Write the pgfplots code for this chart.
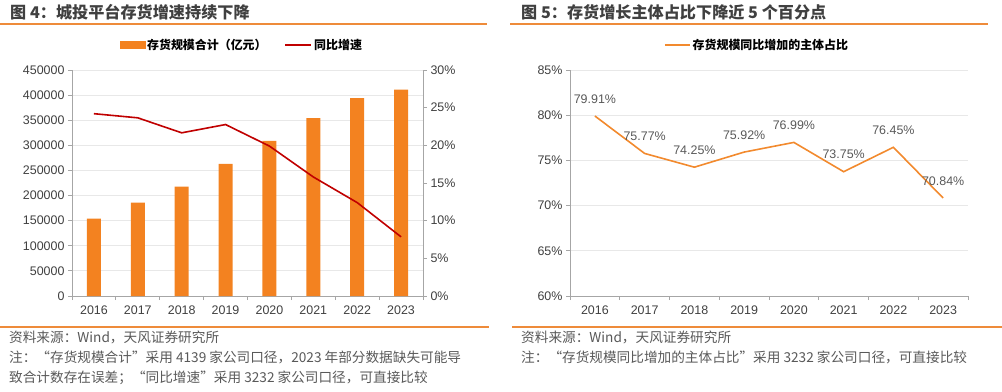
\documentclass[border=0pt]{standalone}
\usepackage{pgfplots}
\pgfplotsset{compat=1.18}
\usepackage{fontspec}
\setmainfont{Liberation Sans}
\newfontfamily\cjk{Noto Sans CJK SC}
\definecolor{barorange}{HTML}{F38220}
\definecolor{darkred}{HTML}{C00000}
\definecolor{lineorange}{HTML}{F28A2E}
\definecolor{ruleorange}{HTML}{EE8B3A}
\definecolor{ticktext}{HTML}{404040}
\definecolor{axisgray}{HTML}{A6A6A6}
\definecolor{gridgray}{HTML}{E8E8E8}
\definecolor{titlegray}{HTML}{404040}
\definecolor{notegray}{HTML}{595959}
\pgfplotsset{
  common/.style={
    scale only axis, height=226bp,
    xmin=-0.5, xmax=7.5,
    xtick={-0.5,0.5,...,7.5}, xticklabels={},
    extra x ticks={0,1,2,3,4,5,6,7},
    extra x tick labels={2016,2017,2018,2019,2020,2021,2022,2023},
    extra x tick style={major tick length=0pt, tick label style={yshift=-6bp}},
    tick align=outside,
    major tick length=4bp,
    axis line style={axisgray, line width=0.8bp},
    tick style={axisgray, line width=0.8bp},
    ymajorgrids, grid style={gridgray, line width=0.8bp},
    tick label style={font=\fontsize{12.5}{14}\selectfont, text=ticktext},
    /pgf/number format/assume math mode=true,
    /pgf/number format/1000 sep={},
    axis x line*=bottom, axis y line*=left,
  }
}
\begin{document}
\begin{tikzpicture}[x=1bp,y=1bp]
\useasboundingbox (0,0) rectangle (1002,391);
% ---- titles and rules
\node[anchor=west, inner sep=0, font=\cjk\bfseries\fontsize{16.2}{19}\selectfont, text=titlegray] at (10,379) {图 4：城投平台存货增速持续下降};
\node[anchor=west, inner sep=0, font=\cjk\bfseries\fontsize{16.2}{19}\selectfont, text=titlegray] at (521,379) {图 5：存货增长主体占比下降近 5 个百分点};
\draw[ruleorange, line width=1.5bp] (0,367) -- (487,367);
\draw[ruleorange, line width=1.5bp] (510,367) -- (988,367);
\draw[ruleorange, line width=1.5bp] (0,64) -- (489,64);
\draw[ruleorange, line width=1.5bp] (512,64) -- (1002,64);
% ---- footnotes
\begin{scope}[every node/.style={anchor=west, inner sep=0, font=\cjk\fontsize{13.7}{16}\selectfont, text=notegray}]
\node at (9,54) {资料来源：Wind，天风证券研究所};
\node at (9,34) {注：“存货规模合计”采用 4139 家公司口径，2023 年部分数据缺失可能导};
\node at (9,13) {致合计数存在误差；“同比增速”采用 3232 家公司口径，可直接比较};
\node at (521,54) {资料来源：Wind，天风证券研究所};
\node at (521,34) {注：“存货规模同比增加的主体占比”采用 3232 家公司口径，可直接比较};
\end{scope}
% ---- left chart
\begin{axis}[common, at={(72bp,95bp)}, anchor=south west, width=351bp,
  ymin=0, ymax=450000, ytick={0,50000,...,450000}, scaled y ticks=false,
  yticklabel={\pgfmathprintnumber[fixed,precision=0,1000 sep={}]{\tick}}]
\addplot[ybar, bar width=14bp, fill=barorange, draw=none] coordinates {
(0,154000) (1,186000) (2,218000) (3,263000) (4,309000) (5,354000) (6,394000) (7,411000)};
\end{axis}
\begin{axis}[at={(72bp,95bp)}, anchor=south west, width=351bp, height=226bp, scale only axis,
  xmin=-0.5, xmax=7.5, axis x line=none, axis y line*=right,
  ymin=0, ymax=30, ytick={0,5,...,30},
  yticklabel={\pgfmathprintnumber[fixed,precision=0]{\tick}\%},
  tick align=outside, major tick length=4bp,
  axis line style={axisgray, line width=0.8bp},
  tick style={axisgray, line width=0.8bp},
  tick label style={font=\fontsize{12.5}{14}\selectfont, text=ticktext},
  /pgf/number format/assume math mode=true,
  legend style={draw=none, fill=none, at={(0.484,1.111)}, anchor=center,
    font=\cjk\bfseries\fontsize{12}{14}\selectfont, text=black,
    /tikz/every even column/.append style={column sep=16bp}},
  legend columns=2]
\addlegendimage{barorange, fill=barorange, legend image code/.code={\fill[barorange] (0bp,-3.5bp) rectangle (25bp,3.5bp);}}
\addlegendentry{存货规模合计（亿元）}
\addplot[darkred, line width=1.6bp, legend image code/.code={\draw[darkred, line width=1.6bp] (0bp,0bp) -- (26bp,0bp);}] coordinates {
(0,24.2) (1,23.65) (2,21.66) (3,22.76) (4,19.9) (5,15.8) (6,12.4) (7,7.85)};
\addlegendentry{同比增速}
\end{axis}
% ---- right chart
\begin{axis}[common, at={(570bp,95bp)}, anchor=south west, width=398bp,
  ymin=60, ymax=85, ytick={60,65,...,85},
  yticklabel={\pgfmathprintnumber[fixed,precision=0]{\tick}\%},
  legend style={draw=none, fill=none, at={(0.47,1.111)}, anchor=center,
    font=\cjk\bfseries\fontsize{12}{14}\selectfont, text=black}]
\addplot[lineorange, line width=1.6bp, point meta=y,
  nodes near coords={\pgfmathprintnumber[fixed,fixed zerofill,precision=2]{\pgfplotspointmeta}\%},
  every node near coord/.append style={anchor=center, yshift=17bp, font=\fontsize{12.5}{14}\selectfont, text=notegray},
  legend image code/.code={\draw[lineorange, line width=1.6bp] (0bp,0bp) -- (25bp,0bp);}] coordinates {
(0,79.91) (1,75.77) (2,74.25) (3,75.92) (4,76.99) (5,73.75) (6,76.45) (7,70.84)};
\addlegendentry{存货规模同比增加的主体占比}
\end{axis}
\end{tikzpicture}
\end{document}
